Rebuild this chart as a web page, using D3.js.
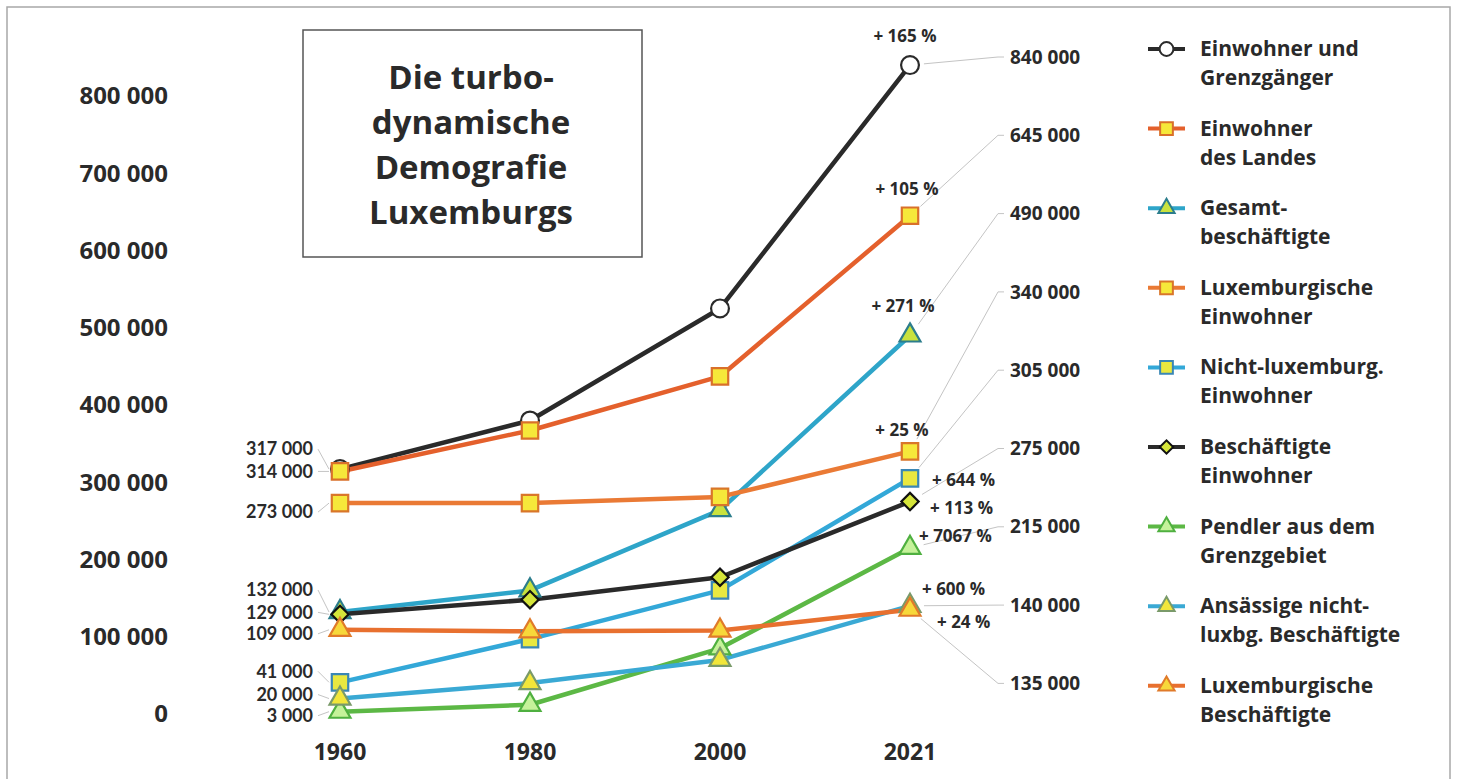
<!DOCTYPE html>
<html>
<head>
<meta charset="utf-8">
<script src="https://cdn.jsdelivr.net/npm/d3@7"></script>
<style>
  body { margin: 0; background: #fff; }
  svg text { font-family: "Open Sans", "Noto Sans", sans-serif; font-weight: 700; fill: #2a2a2a; }
  svg text.small { font-family: Lato, "Open Sans", sans-serif; font-weight: 700; }
</style>
</head>
<body>
<svg id="chart" width="1458" height="779"></svg>
<script>
// data
var years = ["1960", "1980", "2000", "2021"];
var yTicks = [0, 100000, 200000, 300000, 400000, 500000, 600000, 700000, 800000];

var einwohnerGrenz   = [317000, 380000, 525000, 840000];
var einwohnerLand    = [314000, 367000, 437000, 645000];
var gesamtBeschaeft  = [132000, 160000, 264000, 490000];
var luxEinwohner     = [273000, 273000, 281000, 340000];
var nichtLuxEinw     = [41000, 97000, 160000, 305000];
var beschEinwohner   = [129000, 148000, 177000, 275000];
var pendler          = [3000, 12000, 85000, 215000];
var ansaessigeNicht  = [20000, 40000, 70000, 140000];
var luxBeschaeft     = [109000, 107000, 108000, 135000];

var titleLines = ["Die turbo-", "dynamische", "Demografie", "Luxemburgs"];

// series styling (legend order)
var series = [
  {name: ["Einwohner und", "Grenzgänger"], values: einwohnerGrenz, line: "#2a2a2a", sym: d3.symbolCircle, size: 250, fill: "#fff", stroke: "#2a2a2a",
   pct: {dx: -5, dy: -29, a: "middle"}, left: -20},
  {name: ["Einwohner", "des Landes"], values: einwohnerLand, line: "#e4602c", sym: d3.symbolSquare, size: 270, fill: "#f6e83a", stroke: "#d9702a",
   pct: {dx: -3, dy: -27, a: "middle"}, left: 0},
  {name: ["Gesamt-", "beschäftigte"], values: gesamtBeschaeft, line: "#2ea5c9", sym: d3.symbolTriangle, size: 190, fill: "#c9e23e", stroke: "#2c7d8c",
   pct: {dx: -7, dy: -29, a: "middle"}, left: -22},
  {name: ["Luxemburgische", "Einwohner"], values: luxEinwohner, line: "#ea7a35", sym: d3.symbolSquare, size: 270, fill: "#f6e83a", stroke: "#d9762a",
   pct: {dx: -8, dy: -21, a: "middle"}, left: 9},
  {name: ["Nicht-luxemburg.", "Einwohner"], values: nichtLuxEinw, line: "#33a8d8", sym: d3.symbolSquare, size: 270, fill: "#e9e840", stroke: "#3a87b5",
   pct: {dx: 22, dy: 2, a: "start"}, left: -11},
  {name: ["Beschäftigte", "Einwohner"], values: beschEinwohner, line: "#2a2a2a", sym: d3.symbolSquare, rot: 45, size: 150, fill: "#d5e53a", stroke: "#111",
   pct: {dx: 20, dy: 6, a: "start"}, left: -2},
  {name: ["Pendler aus dem", "Grenzgebiet"], values: pendler, line: "#5cb845", sym: d3.symbolTriangle, size: 190, fill: "#c5f29a", stroke: "#4fb040",
   pct: {dx: 9, dy: -12, a: "start"}, left: 4},
  {name: ["Ansässige nicht-", "luxbg. Beschäftigte"], values: ansaessigeNicht, line: "#3aa9d4", sym: d3.symbolTriangle, size: 190, fill: "#f2e63a", stroke: "#7a9a6a",
   pct: {dx: 12, dy: -17, a: "start"}, left: -4},
  {name: ["Luxemburgische", "Beschäftigte"], values: luxBeschaeft, line: "#e8702f", sym: d3.symbolTriangle, size: 190, fill: "#f7d83a", stroke: "#e07a2a",
   pct: {dx: 27, dy: 12, a: "start"}, left: 4}
];

var svg = d3.select("#chart");
var fmt = function(v) { return d3.format(",")(v).replace(/,/g, " "); };

var x = d3.scalePoint().domain(years).range([340, 910]);
var y = d3.scaleLinear().domain([0, 800000]).range([714, 96]);

// outer frame
svg.append("rect").attr("x", 7).attr("y", 7).attr("width", 1443).attr("height", 800)
  .attr("fill", "none").attr("stroke", "#a8a8a8").attr("stroke-width", 1.5);

// title box
svg.append("rect").attr("x", 303).attr("y", 30).attr("width", 339).attr("height", 227)
  .attr("fill", "#fff").attr("stroke", "#555").attr("stroke-width", 1.5);
svg.append("g").selectAll("text").data(titleLines).join("text")
  .attr("x", 471).attr("y", function(d, i) { return 89 + i * 45; })
  .attr("text-anchor", "middle").style("font-size", "33px").text(function(d) { return d; });

// y axis labels (no axis line)
svg.append("g").selectAll("text").data(yTicks).join("text")
  .attr("x", 168).attr("y", function(d) { return y(d); }).attr("dy", "0.35em")
  .attr("text-anchor", "end").style("font-size", "24px").text(fmt);

// x axis labels
svg.append("g").selectAll("text").data(years).join("text")
  .attr("x", function(d) { return x(d); }).attr("y", 752).attr("dy", "0.35em")
  .attr("text-anchor", "middle").style("font-size", "23px").text(function(d) { return d; });

var line = d3.line().x(function(d, i) { return x(years[i]); }).y(function(d) { return y(d); });

// leader lines + left value labels
var leaders = svg.append("g").attr("stroke", "#c4c4c4").attr("stroke-width", 1).attr("fill", "none");
series.forEach(function(s) {
  var py = y(s.values[0]), ly = py + s.left;
  leaders.append("line").attr("x1", 318).attr("y1", ly).attr("x2", x(years[0]) - 11).attr("y2", py);
  svg.append("text").attr("class", "small").attr("x", 313).attr("y", ly).attr("dy", "0.35em").attr("text-anchor", "end")
    .style("font-size", "18px").text(fmt(s.values[0]));
});

// right value labels, stacked in legend order
series.forEach(function(s, i) {
  var px = x(years[3]), py = y(s.values[3]), ly = 57 + i * 78.3;
  var ang = Math.atan2(ly - py, 1000 - px);
  leaders.append("path").attr("d", "M" + (px + 14 * Math.cos(ang)) + "," + (py + 14 * Math.sin(ang)) +
    "L998," + ly + "L1004," + ly);
  svg.append("text").attr("x", 1010).attr("y", ly).attr("dy", "0.35em")
    .style("font-size", "19px").text(fmt(s.values[3]));
});

// lines
svg.append("g").selectAll("path").data(series).join("path")
  .attr("d", function(s) { return line(s.values); })
  .attr("fill", "none").attr("stroke", function(s) { return s.line; })
  .attr("stroke-width", 4.5).attr("stroke-linejoin", "round");

// markers
series.forEach(function(s) {
  svg.append("g").selectAll("path").data(s.values).join("path")
    .attr("transform", function(d, i) {
      return "translate(" + x(years[i]) + "," + y(d) + ")" + (s.rot ? " rotate(" + s.rot + ")" : "");
    })
    .attr("d", d3.symbol().type(s.sym).size(s.size))
    .attr("fill", s.fill).attr("stroke", s.stroke).attr("stroke-width", 2.2);
});

// growth labels at 2021
series.forEach(function(s) {
  var g = Math.round((s.values[3] / s.values[0] - 1) * 100);
  svg.append("text").attr("x", x(years[3]) + s.pct.dx).attr("y", y(s.values[3]) + s.pct.dy).attr("dy", "0.35em")
    .attr("text-anchor", s.pct.a).style("font-size", "17px").text("+ " + g + " %");
});

// legend
var leg = svg.append("g").selectAll("g").data(series).join("g")
  .attr("transform", function(d, i) { return "translate(1148," + (56 + i * 79.6) + ")"; });
leg.append("line").attr("x1", 0).attr("x2", 37).attr("y1", -7).attr("y2", -7)
  .attr("stroke", function(s) { return s.line; }).attr("stroke-width", 4);
leg.append("path")
  .attr("transform", function(s) { return "translate(18.5,-7)" + (s.rot ? " rotate(" + s.rot + ")" : ""); })
  .attr("d", function(s) { return d3.symbol().type(s.sym).size(s.size * 0.6)(); })
  .attr("fill", function(s) { return s.fill; }).attr("stroke", function(s) { return s.stroke; }).attr("stroke-width", 2);
leg.selectAll("text").data(function(s) { return s.name; }).join("text")
  .attr("x", 52).attr("y", function(d, i) { return i * 29; })
  .style("font-size", "21px").text(function(d) { return d; });
</script>
</body>
</html>
